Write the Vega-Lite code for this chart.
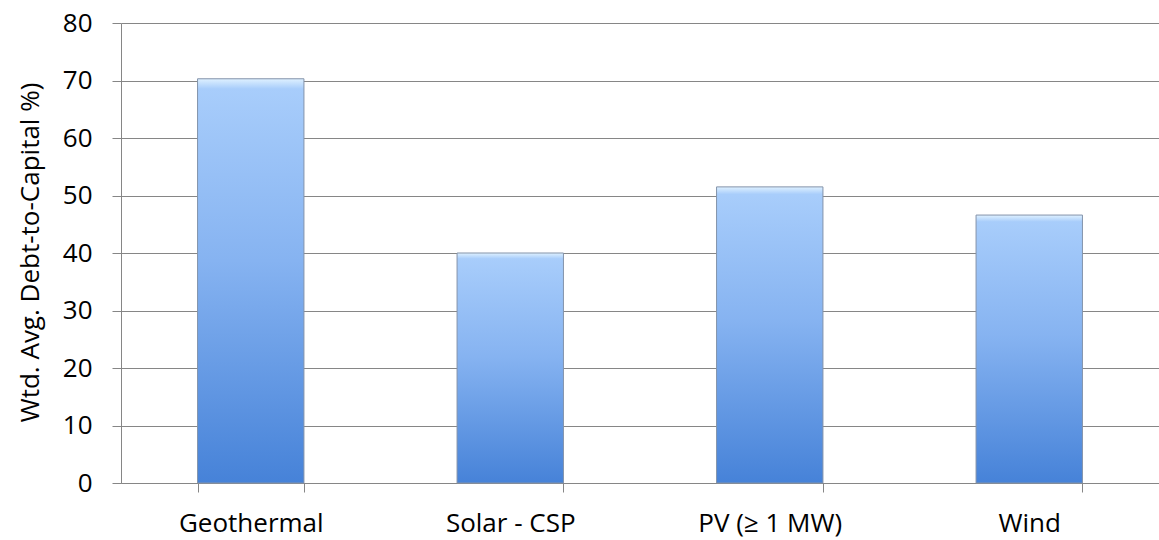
{
  "$schema": "https://vega.github.io/schema/vega-lite/v6.json",
  "width": 1038,
  "height": 460,
  "autosize": {"type": "none"},
  "padding": {"left": 121, "top": 23, "right": 0, "bottom": 57},
  "background": "white",
  "config": {
    "view": {"stroke": null},
    "font": "Open Sans"
  },
  "data": {
    "values": [
      {"tech": "Geothermal", "value": 70.3},
      {"tech": "Solar - CSP", "value": 40.0},
      {"tech": "PV (≥ 1 MW)", "value": 51.5},
      {"tech": "Wind", "value": 46.6}
    ]
  },
  "mark": {
    "type": "bar",
    "color": {
      "gradient": "linear",
      "x1": 0, "y1": 0, "x2": 0, "y2": 1,
      "stops": [
        {"offset": 0, "color": "#dff1ff"},
        {"offset": 0.025, "color": "#a8cdfb"},
        {"offset": 0.45, "color": "#86b3f1"},
        {"offset": 1, "color": "#4682d8"}
      ]
    },
    "stroke": "#8393aa",
    "strokeWidth": 1
  },
  "encoding": {
    "x": {
      "field": "tech",
      "type": "nominal",
      "sort": null,
      "scale": {"paddingInner": 0.59, "paddingOuter": 0.295},
      "axis": {
        "title": null,
        "labelAngle": 0,
        "labelFontSize": 26,
        "labelColor": "#000000",
        "labelPadding": 18,
        "tickBand": "extent",
        "tickSize": 9,
        "tickColor": "#868686",
        "domainColor": "#868686",
        "grid": false
      }
    },
    "y": {
      "field": "value",
      "type": "quantitative",
      "scale": {"domain": [0, 80], "nice": false},
      "axis": {
        "title": "Wtd. Avg. Debt-to-Capital %)",
        "titleFontSize": 26,
        "titleFontWeight": "normal",
        "titleColor": "#000000",
        "titleX": -91,
        "titleY": 229,
        "titleAngle": -90,
        "titleAlign": "center",
        "titleBaseline": "middle",
        "values": [0, 10, 20, 30, 40, 50, 60, 70, 80],
        "labelFontSize": 26,
        "labelColor": "#000000",
        "labelPadding": 20,
        "tickSize": 9,
        "tickColor": "#868686",
        "domainColor": "#868686",
        "grid": true,
        "gridColor": "#868686",
        "gridWidth": 1
      }
    }
  }
}
